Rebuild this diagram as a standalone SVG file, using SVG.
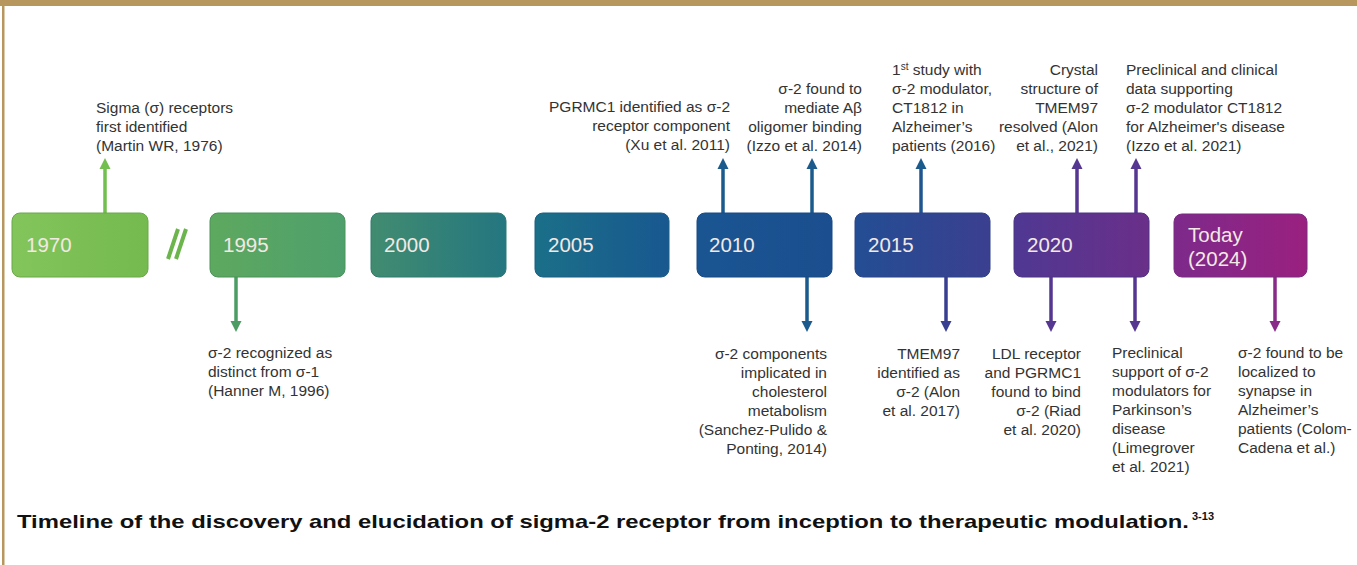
<svg xmlns="http://www.w3.org/2000/svg" width="1357" height="565" viewBox="0 0 1357 565">
<defs>
<style>
.lbl{font-family:"Liberation Sans",Arial,sans-serif;font-size:15.5px;fill:#333333}
.yr{font-family:"Liberation Sans",Arial,sans-serif;font-size:20.5px;fill:#f2e9e4}
.box{stroke-width:1}
.ar{fill:none;stroke-width:3.5}
.r{text-anchor:end}
.cap{font-family:"Liberation Sans",Arial,sans-serif;font-weight:bold;fill:#111111}
</style>
<linearGradient id="g1970" x1="0" x2="1" y1="0" y2="0"><stop offset="0" stop-color="#83c55a"/><stop offset="1" stop-color="#74ba4f"/></linearGradient>
<linearGradient id="g1995" x1="0" x2="1" y1="0" y2="0"><stop offset="0" stop-color="#5ea95f"/><stop offset="1" stop-color="#4e9f6c"/></linearGradient>
<linearGradient id="g2000" x1="0" x2="1" y1="0" y2="0"><stop offset="0" stop-color="#418c70"/><stop offset="1" stop-color="#247680"/></linearGradient>
<linearGradient id="g2005" x1="0" x2="1" y1="0" y2="0"><stop offset="0" stop-color="#1b6f88"/><stop offset="1" stop-color="#185890"/></linearGradient>
<linearGradient id="g2010" x1="0" x2="1" y1="0" y2="0"><stop offset="0" stop-color="#1a5592"/><stop offset="1" stop-color="#1b4e8e"/></linearGradient>
<linearGradient id="g2015" x1="0" x2="1" y1="0" y2="0"><stop offset="0" stop-color="#234e94"/><stop offset="1" stop-color="#3b3f8f"/></linearGradient>
<linearGradient id="g2020" x1="0" x2="1" y1="0" y2="0"><stop offset="0" stop-color="#4f3892"/><stop offset="1" stop-color="#6a2f89"/></linearGradient>
<linearGradient id="gToday" x1="0" x2="1" y1="0" y2="0"><stop offset="0" stop-color="#7d2a8b"/><stop offset="1" stop-color="#9a207f"/></linearGradient>
<marker id="mGreen1" viewBox="0 0 10 10" refX="2" refY="5" markerWidth="3.2" markerHeight="3.2" orient="auto"><path d="M0,0 L10,5 L0,10 Z" fill="#72be4e"/></marker>
<marker id="mGreen2" viewBox="0 0 10 10" refX="2" refY="5" markerWidth="3.2" markerHeight="3.2" orient="auto"><path d="M0,0 L10,5 L0,10 Z" fill="#4b9d63"/></marker>
<marker id="mBlue" viewBox="0 0 10 10" refX="2" refY="5" markerWidth="3.2" markerHeight="3.2" orient="auto"><path d="M0,0 L10,5 L0,10 Z" fill="#1a5a8d"/></marker>
<marker id="mIndigo" viewBox="0 0 10 10" refX="2" refY="5" markerWidth="3.2" markerHeight="3.2" orient="auto"><path d="M0,0 L10,5 L0,10 Z" fill="#383f90"/></marker>
<marker id="mPurple" viewBox="0 0 10 10" refX="2" refY="5" markerWidth="3.2" markerHeight="3.2" orient="auto"><path d="M0,0 L10,5 L0,10 Z" fill="#553690"/></marker>
<marker id="mMagenta" viewBox="0 0 10 10" refX="2" refY="5" markerWidth="3.2" markerHeight="3.2" orient="auto"><path d="M0,0 L10,5 L0,10 Z" fill="#882a88"/></marker>
</defs>
<rect x="0" y="0" width="1357" height="565" fill="#ffffff"/>
<rect x="0" y="0" width="1357" height="6" fill="#b8975f"/>
<rect x="2" y="0" width="2.5" height="565" fill="#b8975f"/>

<g id="connectors">
<line class="ar" x1="105" y1="213" x2="105" y2="167" stroke="#72be4e" marker-end="url(#mGreen1)"/>
<line class="ar" x1="236" y1="277" x2="236" y2="323" stroke="#4b9d63" marker-end="url(#mGreen2)"/>
<line class="ar" x1="723" y1="213" x2="723" y2="167" stroke="#1a5a8d" marker-end="url(#mBlue)"/>
<line class="ar" x1="812" y1="213" x2="812" y2="167" stroke="#1a5a8d" marker-end="url(#mBlue)"/>
<line class="ar" x1="807" y1="277" x2="807" y2="323" stroke="#1a5a8d" marker-end="url(#mBlue)"/>
<line class="ar" x1="921" y1="213" x2="921" y2="167" stroke="#1f5690" marker-end="url(#mBlue)"/>
<line class="ar" x1="946" y1="277" x2="946" y2="323" stroke="#383f90" marker-end="url(#mIndigo)"/>
<line class="ar" x1="1077" y1="213" x2="1077" y2="167" stroke="#553690" marker-end="url(#mPurple)"/>
<line class="ar" x1="1136" y1="213" x2="1136" y2="167" stroke="#553690" marker-end="url(#mPurple)"/>
<line class="ar" x1="1051" y1="277" x2="1051" y2="323" stroke="#553690" marker-end="url(#mPurple)"/>
<line class="ar" x1="1135" y1="277" x2="1135" y2="323" stroke="#553690" marker-end="url(#mPurple)"/>
<line class="ar" x1="1275" y1="277" x2="1275" y2="323" stroke="#882a88" marker-end="url(#mMagenta)"/>
</g>

<g id="n1970"><rect class="box" x="12" y="213" width="136" height="64" rx="8" fill="url(#g1970)" stroke="#6aa84a"/><text class="yr" x="26" y="252">1970</text></g>
<g id="break"><line x1="168" y1="259" x2="178" y2="229" stroke="#6cb54c" stroke-width="4"/><line x1="176" y1="259" x2="186" y2="229" stroke="#6cb54c" stroke-width="4"/></g>
<g id="n1995"><rect class="box" x="210" y="213" width="135" height="64" rx="8" fill="url(#g1995)" stroke="#4a9258"/><text class="yr" x="223" y="252">1995</text></g>
<g id="n2000"><rect class="box" x="371" y="213" width="135" height="64" rx="8" fill="url(#g2000)" stroke="#2f7a70"/><text class="yr" x="384" y="252">2000</text></g>
<g id="n2005"><rect class="box" x="535" y="213" width="134" height="64" rx="8" fill="url(#g2005)" stroke="#1a5f85"/><text class="yr" x="548" y="252">2005</text></g>
<g id="n2010"><rect class="box" x="697" y="213" width="135" height="64" rx="8" fill="url(#g2010)" stroke="#174a85"/><text class="yr" x="709" y="252">2010</text></g>
<g id="n2015"><rect class="box" x="855" y="213" width="135" height="64" rx="8" fill="url(#g2015)" stroke="#2e4288"/><text class="yr" x="868" y="252">2015</text></g>
<g id="n2020"><rect class="box" x="1014" y="213" width="135" height="64" rx="8" fill="url(#g2020)" stroke="#4e3385"/><text class="yr" x="1027" y="252">2020</text></g>
<g id="nToday"><rect class="box" x="1174" y="214" width="133" height="63" rx="8" fill="url(#gToday)" stroke="#7a2a80"/><text class="yr" x="1188" y="242">Today</text><text class="yr" x="1188" y="266">(2024)</text></g>

<g id="e1976"><text class="lbl" x="96" y="113">Sigma (σ) receptors</text><text class="lbl" x="96" y="132">first identified</text><text class="lbl" x="96" y="151">(Martin WR, 1976)</text></g>
<g id="e1996"><text class="lbl" x="208" y="358">σ-2 recognized as</text><text class="lbl" x="208" y="377">distinct from σ-1</text><text class="lbl" x="208" y="396">(Hanner M, 1996)</text></g>
<g id="e2011"><text class="lbl r" x="730" y="112">PGRMC1 identified  as σ-2</text><text class="lbl r" x="730" y="131">receptor component</text><text class="lbl r" x="730" y="150">(Xu et al. 2011)</text></g>
<g id="e2014a"><text class="lbl r" x="862" y="94">σ-2 found to</text><text class="lbl r" x="862" y="113">mediate Aβ</text><text class="lbl r" x="862" y="132">oligomer binding</text><text class="lbl r" x="862" y="151">(Izzo et al. 2014)</text></g>
<g id="e2014b"><text class="lbl r" x="827" y="359">σ-2 components</text><text class="lbl r" x="827" y="378">implicated in</text><text class="lbl r" x="827" y="397">cholesterol</text><text class="lbl r" x="827" y="416">metabolism</text><text class="lbl r" x="827" y="435">(Sanchez-Pulido &amp;</text><text class="lbl r" x="827" y="454">Ponting, 2014)</text></g>
<g id="e2016"><text class="lbl" x="892" y="75">1<tspan font-size="10" dy="-5">st</tspan><tspan dy="5"> study with</tspan></text><text class="lbl" x="892" y="94">σ-2 modulator,</text><text class="lbl" x="892" y="113">CT1812 in</text><text class="lbl" x="892" y="132">Alzheimer’s</text><text class="lbl" x="892" y="151">patients (2016)</text></g>
<g id="e2017"><text class="lbl r" x="960" y="359">TMEM97</text><text class="lbl r" x="960" y="378">identified  as</text><text class="lbl r" x="960" y="397">σ-2 (Alon</text><text class="lbl r" x="960" y="416">et al. 2017)</text></g>
<g id="e2020"><text class="lbl r" x="1081" y="359">LDL receptor</text><text class="lbl r" x="1081" y="378">and PGRMC1</text><text class="lbl r" x="1081" y="397">found to bind</text><text class="lbl r" x="1081" y="416">σ-2 (Riad</text><text class="lbl r" x="1081" y="435">et al. 2020)</text></g>
<g id="e2021a"><text class="lbl r" x="1098" y="75">Crystal</text><text class="lbl r" x="1098" y="94">structure of</text><text class="lbl r" x="1098" y="113">TMEM97</text><text class="lbl r" x="1098" y="132">resolved (Alon</text><text class="lbl r" x="1098" y="151">et al., 2021)</text></g>
<g id="e2021b"><text class="lbl" x="1126" y="75">Preclinical and clinical</text><text class="lbl" x="1126" y="94">data supporting</text><text class="lbl" x="1126" y="113">σ-2 modulator CT1812</text><text class="lbl" x="1126" y="132">for Alzheimer's disease</text><text class="lbl" x="1126" y="151">(Izzo et al. 2021)</text></g>
<g id="e2021c"><text class="lbl" x="1112" y="358">Preclinical</text><text class="lbl" x="1112" y="377">support of σ-2</text><text class="lbl" x="1112" y="396">modulators for</text><text class="lbl" x="1112" y="415">Parkinson’s</text><text class="lbl" x="1112" y="434">disease</text><text class="lbl" x="1112" y="453">(Limegrover</text><text class="lbl" x="1112" y="472">et al. 2021)</text></g>
<g id="eToday"><text class="lbl" x="1238" y="358">σ-2 found to be</text><text class="lbl" x="1238" y="377">localized to</text><text class="lbl" x="1238" y="396">synapse in</text><text class="lbl" x="1238" y="415">Alzheimer’s</text><text class="lbl" x="1238" y="434">patients (Colom-</text><text class="lbl" x="1238" y="453">Cadena et al.)</text></g>

<g id="caption"><text class="cap" x="17" y="528" font-size="19" textLength="1172" lengthAdjust="spacingAndGlyphs">Timeline of the discovery and elucidation of sigma-2 receptor from inception to therapeutic modulation.</text><text class="cap" x="1192" y="520" font-size="11">3-13</text></g>
</svg>
